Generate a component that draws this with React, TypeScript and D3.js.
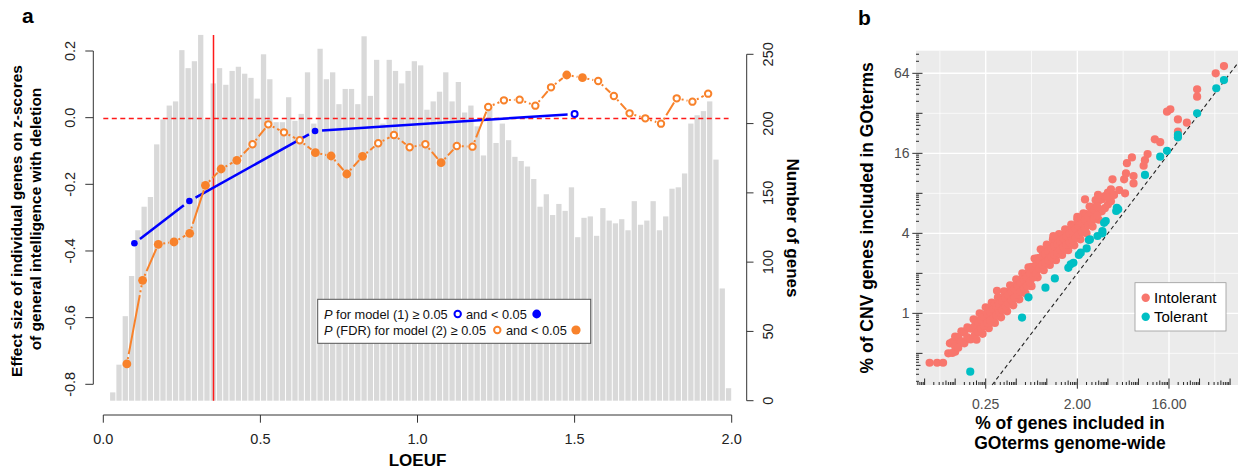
import React from "react";
import * as d3 from "d3";

// ---- panel a data ----
// gene counts per LOEUF bin (bin width 0.02, from 0.00 to 2.00)
const geneCounts = [
  0, 6, 26, 61, 90, 123, 140, 147, 185, 203,
  213, 216, 253, 240, 245, 264, 203, 229, 240, 228,
  238, 241, 236, 233, 218, 250, 232, 201, 201, 219,
  202, 207, 237, 200, 254, 232, 237, 214, 225, 225,
  214, 263, 220, 246, 200, 246, 238, 229, 238, 245,
  242, 210, 216, 223, 237, 216, 230, 208, 213, 198,
  177, 212, 186, 200, 188, 176, 173, 169, 160, 140,
  149, 134, 142, 137, 154, 118, 132, 133, 119, 139,
  130, 128, 131, 123, 144, 127, 130, 144, 123, 133,
  153, 154, 164, 200, 206, 209, 216, 174, 81, 9,
];
const binWidth = 0.02;

// model (1)
const blueX = [0.099, 0.274, 0.674, 1.5];
const blueY = [-0.377, -0.25, -0.04, 0.011];
const blueSig = [true, true, true, false];

// model (2)
const orangeX = [
  0.075, 0.125, 0.175, 0.225, 0.275, 0.325, 0.375, 0.425, 0.475, 0.525,
  0.575, 0.625, 0.675, 0.725, 0.775, 0.825, 0.875, 0.925, 0.975, 1.025,
  1.075, 1.125, 1.175, 1.225, 1.275, 1.325, 1.375, 1.425, 1.475, 1.525,
  1.575, 1.625, 1.675, 1.725, 1.775, 1.825, 1.875, 1.925,
];
const orangeY = [
  -0.739, -0.488, -0.38, -0.373, -0.347, -0.203, -0.154, -0.128, -0.08, -0.02,
  -0.044, -0.068, -0.105, -0.115, -0.169, -0.116, -0.077, -0.052, -0.089, -0.08,
  -0.135, -0.085, -0.087, 0.032, 0.052, 0.054, 0.036, 0.091, 0.128, 0.12,
  0.11, 0.065, 0.013, -0.002, -0.018, 0.058, 0.048, 0.072,
];
const orangeSig = [
  true, true, true, true, true, true, true, true, false, false,
  false, false, true, true, true, true, false, false, false, false,
  true, false, false, false, false, false, false, false, true, true,
  false, false, false, false, false, false, false, false,
];

const leftTicks = [-0.8, -0.6, -0.4, -0.2, 0, 0.2];
const rightTicks = [0, 50, 100, 150, 200, 250];
const loeufTicks = [0, 0.5, 1, 1.5, 2];
const cutoff = 0.35;

// ---- panel b data (% of genes) [genome-wide, CNV] ----
const intolerant = [
  [0.070, 0.425], [0.083, 0.425], [0.095, 0.425],
  [0.107, 0.5], [0.125, 0.514], [0.111, 0.595], [0.125, 0.611],
  [0.117, 0.503], [0.117, 0.607], [0.125, 0.563], [0.125, 0.669],
  [0.134, 0.551], [0.134, 0.664], [0.144, 0.616], [0.144, 0.732],
  [0.154, 0.595], [0.154, 0.717], [0.165, 0.66], [0.165, 0.785],
  [0.177, 0.637], [0.177, 0.768],
  [0.19, 0.655], [0.19, 0.774], [0.19, 0.901],
  [0.203, 0.633], [0.203, 0.742], [0.203, 0.883],
  [0.218, 0.727], [0.218, 0.858], [0.218, 1.0],
  [0.233, 0.702], [0.233, 0.824], [0.233, 0.979],
  [0.25, 0.807], [0.25, 0.953], [0.25, 1.11],
  [0.268, 0.774], [0.268, 0.908], [0.268, 1.079],
  [0.287, 0.877], [0.287, 1.035], [0.287, 1.206],
  [0.308, 0.847], [0.308, 0.993], [0.308, 1.181],
  [0.33, 0.959], [0.33, 1.133], [0.33, 1.32],
  [0.354, 0.933], [0.354, 1.094], [0.354, 1.301],
  [0.379, 1.064], [0.379, 1.257], [0.379, 1.464],
  [0.406, 1.035], [0.406, 1.214], [0.406, 1.444],
  [0.435, 1.181], [0.435, 1.395], [0.435, 1.625],
  [0.467, 1.149], [0.467, 1.347], [0.467, 1.602],
  [0.5, 1.31], [0.5, 1.548], [0.5, 1.803],
  [0.536, 1.275], [0.536, 1.495], [0.536, 1.778],
  [0.574, 1.454], [0.574, 1.717], [0.574, 2.0],
  [0.616, 1.414], [0.616, 1.659], [0.616, 1.973],
  [0.66, 1.613], [0.66, 1.905], [0.66, 2.219],
  [0.707, 1.602], [0.707, 1.879], [0.707, 2.235],
  [0.758, 1.879], [0.758, 2.219], [0.758, 2.585],
  [0.812, 1.866], [0.812, 2.188], [0.812, 2.603],
  [0.871, 2.204], [0.871, 2.603], [0.871, 3.03],
  [0.933, 2.114], [0.933, 2.479], [0.933, 2.949],
  [1.0, 2.395], [1.0, 2.828], [1.0, 3.294],
  [1.072, 2.313], [1.072, 2.713], [1.072, 3.227],
  [1.149, 2.621], [1.149, 3.095], [1.149, 3.605],
  [1.231, 2.514], [1.231, 2.949], [1.231, 3.506],
  [1.32, 2.868], [1.32, 3.387], [1.32, 3.945],
  [1.414, 2.751], [1.414, 3.227], [1.414, 3.837],
  [1.516, 3.116], [1.516, 3.681], [1.516, 4.287],
  [1.625, 2.99], [1.625, 3.506], [1.625, 4.17],
  [1.741, 3.387], [1.741, 4.0], [1.741, 4.659],
  [1.866, 3.249], [1.866, 3.811], [1.866, 4.532],
  [2.0, 3.706], [2.0, 4.377], [2.0, 5.098],
  [2.144, 3.605], [2.144, 4.228], [2.144, 5.028],
  [2.297, 4.112], [2.297, 4.857], [2.297, 5.657],
  [2.462, 4.0], [2.462, 4.692], [2.462, 5.579],
  [2.639, 4.627], [2.639, 5.464], [2.639, 6.364],
  [2.828, 4.5], [2.828, 5.278], [2.828, 6.276],
  [3.03, 5.169], [3.03, 6.105], [3.03, 7.11],
  [3.249, 5.063], [3.249, 5.938], [3.249, 7.062],
  [3.482, 5.856], [3.482, 7.21], [3.732, 6.19], [3.732, 7.62],
  [4.0, 6.59], [4.0, 8.11], [4.287, 6.96], [4.287, 8.57],
  // in-between points of the dense band
  [0.196, 0.693], [0.196, 0.807], [0.21, 0.727], [0.21, 0.847],
  [0.225, 0.768], [0.225, 0.895], [0.241, 0.807], [0.241, 0.939],
  [0.259, 0.847], [0.259, 0.986], [0.277, 0.883], [0.277, 1.028],
  [0.297, 0.92], [0.297, 1.072], [0.319, 0.966], [0.319, 1.125],
  [0.341, 1.014], [0.341, 1.181], [0.366, 1.064], [0.366, 1.24],
  [0.392, 1.125], [0.392, 1.31], [0.42, 1.181], [0.42, 1.375],
  [0.451, 1.248], [0.451, 1.454], [0.483, 1.31], [0.483, 1.526],
  [0.518, 1.385], [0.518, 1.613], [0.555, 1.454], [0.555, 1.693],
  [0.595, 1.537], [0.595, 1.79], [0.637, 1.613], [0.637, 1.879],
  [0.683, 1.717], [0.683, 2.0], [0.732, 1.853], [0.732, 2.158],
  [0.785, 2.0], [0.785, 2.329], [0.841, 2.173], [0.841, 2.531],
  [0.901, 2.313], [0.901, 2.694], [0.966, 2.412], [0.966, 2.809],
  [1.035, 2.514], [1.035, 2.928], [1.11, 2.639], [1.11, 3.073],
  [1.189, 2.751], [1.189, 3.204], [1.275, 2.868], [1.275, 3.34],
  [1.366, 3.01], [1.366, 3.506], [1.464, 3.138], [1.464, 3.655],
  [1.569, 3.272], [1.569, 3.811], [1.682, 3.411], [1.682, 3.973],
  [1.803, 3.555], [1.803, 4.141], [1.932, 3.706], [1.932, 4.317],
  [2.071, 3.918], [2.071, 4.563], [2.219, 4.112], [2.219, 4.79],
  [2.378, 4.347], [2.378, 5.063], [2.549, 4.595], [2.549, 5.352],
  [2.732, 4.891], [2.732, 5.696], [2.928, 5.169], [2.928, 6.021],
  [3.138, 5.464], [3.138, 6.364],
  // sparse points above the band
  [0.323, 1.48], [1.16, 3.82], [2.0, 5.33], [2.38, 7.2], [3.2, 7.78],
  [3.97, 7.46], [4.6, 7.78], [5.17, 8.46], [5.9, 8.0], [4.44, 10.2],
  [5.78, 10.2], [7.16, 9.5], [7.16, 10.8], [6.03, 11.3], [6.16, 13.5],
  [6.9, 14.9], [9.0, 12.9], [9.27, 14.2], [9.85, 15.8], [13.1, 19.4],
  [11.6, 20.4], [19.6, 23.3], [24, 27.2], [19.6, 28.8], [16.5, 34.3],
  [15.3, 32.9], [30.3, 42.7], [30.3, 48.5], [46.2, 64], [55.7, 72.6],
];
const tolerant = [
  [55.7, 56.9], [46.8, 49.4], [30.3, 32], [19.6, 22], [19.6, 21.1],
  [15.3, 16.7], [13.1, 15.1], [9.28, 11.0], [4.9, 6.23], [5.06, 6.06],
  [4.83, 5.89], [3.81, 4.95], [3.67, 4.8], [3.53, 4.16], [3.53, 4.0],
  [3.16, 3.82], [2.66, 3.6], [2.6, 3.56], [2.47, 3.08], [2.16, 2.86],
  [2.07, 2.75], [1.83, 2.4], [1.72, 2.34], [1.63, 2.2], [1.2, 1.83],
  [0.97, 1.56], [0.66, 1.32], [0.57, 0.93], [0.176, 0.364],
];
const xTicksB = [0.25, 2, 16];
const yTicksB = [1, 4, 16, 64];

const FONT = "'Liberation Sans', Arial, Helvetica, sans-serif";
const ORANGE = "#F8822B";
const BLUE = "#0000FF";

// line segments between points with a gap around each marker (R type="b")
const gapLines = (pts: number[][], g: number) =>
  pts.slice(1).map((q, i) => {
    const p = pts[i];
    const dx = q[0] - p[0], dy = q[1] - p[1];
    const len = Math.hypot(dx, dy);
    if (len <= 2 * g) return null;
    const ux = dx / len, uy = dy / len;
    return [p[0] + ux * g, p[1] + uy * g, q[0] - ux * g, q[1] - uy * g];
  }).filter(Boolean) as number[][];

// log10-style tick marks laid on log2 coordinates
const logTicks = (lo: number, hi: number) => {
  const out: { v: number; len: number }[] = [];
  for (let k = Math.floor(lo); k <= Math.ceil(hi); k++) {
    for (let j = 1; j <= 9; j++) {
      const t = k + Math.log10(j);
      if (t >= lo && t <= hi) out.push({ v: Math.pow(2, t), len: j === 1 ? 6.5 : j === 5 ? 4.5 : 3 });
    }
  }
  return out;
};

export default function App() {
  // panel a scales
  const xA = d3.scaleLinear().domain([0, 2]).range([103.3, 731.7]);
  const yA = d3.scaleLinear().domain([-0.8, 0.2]).range([384.3, 51]);
  const yN = d3.scaleLinear().domain([0, 250]).range([400.7, 54.3]);
  const bw = xA(binWidth) - xA(0);

  const bluePts = blueX.map((x, i) => [xA(x), yA(blueY[i])]);
  const orangePts = orangeX.map((x, i) => [xA(x), yA(orangeY[i])]);
  const zeroY = Math.round(yA(0)) + 0.5;
  const cutX = Math.round(xA(cutoff)) + 0.5;

  // panel b scales
  const xB = d3.scaleLog().base(2).domain([0.0514, 76.6]).range([916, 1238]);
  const yB = d3.scaleLog().base(2).domain([0.289, 94.7]).range([385, 50.7]);
  const [bx0, bx1] = xB.range();
  const [by0, by1] = yB.range();
  const xMinorB = [0.0884, 0.707, 5.657, 45.25];
  const yMinorB = [0.5, 2, 8, 32];
  const xLog = logTicks(Math.log2(xB.domain()[0]), Math.log2(xB.domain()[1]));
  const yLog = logTicks(Math.log2(yB.domain()[0]), Math.log2(yB.domain()[1]));

  return (
    <svg width={1238} height={470} style={{ position: "absolute", left: 0, top: 0, background: "#fff" }}
      fontFamily={FONT}>
      {/* ---------- panel a ---------- */}
      <text x={22} y={23} fontSize={21} fontWeight="bold">a</text>

      {geneCounts.map((c, i) => c > 0 && (
        <rect key={"b" + i} x={xA(i * binWidth) + 0.5} width={bw - 1}
          y={yN(c)} height={yN(0) - yN(c)} fill="#D9D9D9" />
      ))}

      <line x1={cutX} x2={cutX} y1={yN(d3.max(geneCounts) as number)} y2={yN(0)}
        stroke="#FF1A1A" strokeWidth={1.5} />
      <line x1={xA(0)} x2={xA(1.99)} y1={zeroY} y2={zeroY} stroke="#FF1A1A"
        strokeWidth={1.5} strokeDasharray="5,3.5" />

      {gapLines(bluePts, 7).map((s, i) => (
        <line key={"bl" + i} x1={s[0]} y1={s[1]} x2={s[2]} y2={s[3]} stroke={BLUE} strokeWidth={2.5} />
      ))}
      {bluePts.map((p, i) => blueSig[i]
        ? <circle key={"bp" + i} cx={p[0]} cy={p[1]} r={3.3} fill={BLUE} />
        : <circle key={"bp" + i} cx={p[0]} cy={p[1]} r={3} fill="none" stroke={BLUE} strokeWidth={2} />)}

      {gapLines(orangePts, 5).map((s, i) => (
        <line key={"ol" + i} x1={s[0]} y1={s[1]} x2={s[2]} y2={s[3]} stroke={ORANGE}
          strokeWidth={2} strokeDasharray="2,3,60,3" />
      ))}
      {orangePts.map((p, i) => orangeSig[i]
        ? <circle key={"op" + i} cx={p[0]} cy={p[1]} r={4.4} fill={ORANGE} />
        : <circle key={"op" + i} cx={p[0]} cy={p[1]} r={3.2} fill="#fff" stroke={ORANGE} strokeWidth={2} />)}

      {/* legend a */}
      <rect x={317.7} y={299.3} width={273} height={44} fill="#fff" stroke="#555" strokeWidth={1} />
      <g fontSize={12.8} fill="#111">
        <text x={324} y={318.5}><tspan fontStyle="italic">P</tspan> for model (1) ≥ 0.05</text>
        <circle cx={457.7} cy={314} r={3.2} fill="none" stroke={BLUE} strokeWidth={2} />
        <text x={466} y={318.5}>and &lt; 0.05</text>
        <circle cx={536.7} cy={314} r={4.4} fill={BLUE} />
        <text x={324} y={334.5}><tspan fontStyle="italic">P</tspan> (FDR) for model (2) ≥ 0.05</text>
        <circle cx={497.3} cy={330} r={3.2} fill="none" stroke={ORANGE} strokeWidth={2} />
        <text x={506} y={334.5}>and &lt; 0.05</text>
        <circle cx={576} cy={330} r={4.6} fill={ORANGE} />
      </g>

      {/* left axis */}
      <line x1={93.3} x2={93.3} y1={yA(0.2)} y2={yA(-0.8)} stroke="#333" />
      {leftTicks.map((v) => (
        <g key={"lt" + v}>
          <line x1={85.3} x2={93.3} y1={yA(v)} y2={yA(v)} stroke="#333" />
          <text transform={`translate(75,${yA(v)}) rotate(-90)`} textAnchor="middle" fontSize={14.5}
            fill="#222">{v.toFixed(1)}</text>
        </g>
      ))}
      <g fontSize={15.5} fontWeight="bold" textAnchor="middle">
        <text transform="translate(21.5,221) rotate(-90)">Effect size of individual genes on z-scores</text>
        <text transform="translate(41,219) rotate(-90)">of general intelligence with deletion</text>
      </g>

      {/* bottom axis */}
      <line x1={xA(0)} x2={xA(2)} y1={415} y2={415} stroke="#333" />
      {loeufTicks.map((v) => (
        <g key={"xt" + v}>
          <line x1={xA(v)} x2={xA(v)} y1={415} y2={422.7} stroke="#333" />
          <text x={xA(v)} y={444} textAnchor="middle" fontSize={14.5} fill="#222">{v.toFixed(1)}</text>
        </g>
      ))}
      <text x={417.5} y={465.5} textAnchor="middle" fontSize={17} fontWeight="bold">LOEUF</text>

      {/* right axis */}
      <line x1={746.7} x2={746.7} y1={yN(0)} y2={yN(250)} stroke="#333" />
      {rightTicks.map((v) => (
        <g key={"rt" + v}>
          <line x1={746.7} x2={753.5} y1={yN(v)} y2={yN(v)} stroke="#333" />
          <text transform={`translate(773.3,${yN(v)}) rotate(-90)`} textAnchor="middle" fontSize={14.5}
            fill="#222">{v}</text>
        </g>
      ))}
      <text transform="translate(787,228) rotate(90)" textAnchor="middle" fontSize={17}
        fontWeight="bold">Number of genes</text>

      {/* ---------- panel b ---------- */}
      <text x={858} y={25} fontSize={21} fontWeight="bold">b</text>
      <rect x={bx0} y={by1} width={bx1 - bx0} height={by0 - by1} fill="#EBEBEB" />
      {xMinorB.map((v) => (
        <line key={"xm" + v} x1={xB(v)} x2={xB(v)} y1={by1} y2={by0} stroke="#fff" strokeWidth={0.7} />
      ))}
      {yMinorB.map((v) => (
        <line key={"ym" + v} x1={bx0} x2={bx1} y1={yB(v)} y2={yB(v)} stroke="#fff" strokeWidth={0.7} />
      ))}
      {xTicksB.map((v) => (
        <line key={"xg" + v} x1={xB(v)} x2={xB(v)} y1={by1} y2={by0} stroke="#fff" strokeWidth={1.4} />
      ))}
      {yTicksB.map((v) => (
        <line key={"yg" + v} x1={bx0} x2={bx1} y1={yB(v)} y2={yB(v)} stroke="#fff" strokeWidth={1.4} />
      ))}

      {/* identity line */}
      <line x1={xB(0.289)} y1={yB(0.289)} x2={xB(76.6)} y2={yB(76.6)} stroke="#222" strokeWidth={1.1}
        strokeDasharray="4,3" />

      {intolerant.map((d, i) => (
        <circle key={"in" + i} cx={xB(d[0])} cy={yB(d[1])} r={4.1} fill="#F8766D" />
      ))}
      {tolerant.map((d, i) => (
        <circle key={"to" + i} cx={xB(d[0])} cy={yB(d[1])} r={4.1} fill="#00BFC4" />
      ))}

      {/* log ticks inside the panel */}
      {xLog.map((t, i) => (
        <line key={"xl" + i} x1={xB(t.v)} x2={xB(t.v)} y1={by0} y2={by0 - t.len} stroke="#111" strokeWidth={0.9} />
      ))}
      {yLog.map((t, i) => (
        <line key={"yl" + i} x1={bx0} x2={bx0 + t.len} y1={yB(t.v)} y2={yB(t.v)} stroke="#111" strokeWidth={0.9} />
      ))}

      {/* axes b */}
      {xTicksB.map((v) => (
        <g key={"xb" + v}>
          <line x1={xB(v)} x2={xB(v)} y1={by0} y2={by0 + 3.7} stroke="#333" />
          <text x={xB(v)} y={408.5} textAnchor="middle" fontSize={14} fill="#4D4D4D">{v.toFixed(2)}</text>
        </g>
      ))}
      {yTicksB.map((v) => (
        <g key={"yb" + v}>
          <line x1={bx0 - 3.7} x2={bx0} y1={yB(v)} y2={yB(v)} stroke="#333" />
          <text x={909.5} y={yB(v) + 5} textAnchor="end" fontSize={14} fill="#4D4D4D">{v}</text>
        </g>
      ))}
      <g fontSize={17.5} fontWeight="bold" textAnchor="middle">
        <text x={1070} y={428.5}>% of genes included in</text>
        <text x={1070} y={449}>GOterms genome-wide</text>
        <text transform={`translate(873,${(by0 + by1) / 2}) rotate(-90)`}>% of CNV genes included in GOterms</text>
      </g>

      {/* legend b */}
      <rect x={1135} y={282.7} width={91} height={48.3} fill="#fff" stroke="#999" strokeWidth={0.8} />
      <circle cx={1145.7} cy={297.7} r={4.2} fill="#F8766D" />
      <text x={1154} y={303} fontSize={15}>Intolerant</text>
      <circle cx={1145.7} cy={316.7} r={4.2} fill="#00BFC4" />
      <text x={1154} y={322} fontSize={15}>Tolerant</text>
    </svg>
  );
}
